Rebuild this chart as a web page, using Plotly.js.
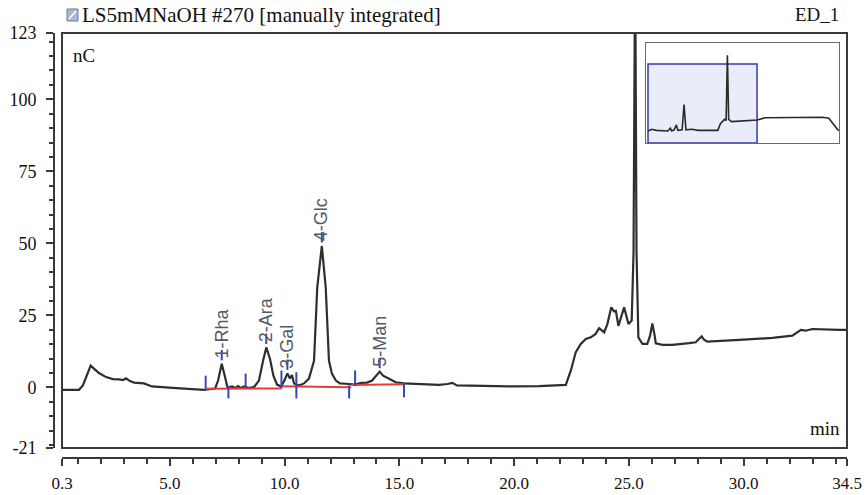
<!DOCTYPE html>
<html>
<head>
<meta charset="utf-8">
<script src="https://cdn.plot.ly/plotly-3.0.1.min.js"></script>
<style>html,body{margin:0;padding:0;background:#fff;}#chart{width:865px;height:495px;}</style>
</head>
<body>
<div id="chart"></div>
<script>
// ---- Main chromatogram (time in min, signal in nC) ----
const timeMin = [0.3, 1.04, 1.21, 1.39, 1.55, 1.74, 1.91, 2.22, 2.52, 2.78, 2.96, 3.09, 3.26, 3.44, 3.87, 4.22, 4.74, 5.27, 6.49,
  6.71, 6.97, 7.10, 7.26, 7.39, 7.51, 7.71, 7.84, 7.97, 8.10, 8.23, 8.45, 8.67, 8.88, 9.06, 9.20, 9.36, 9.51, 9.67, 9.84,
  9.97, 10.12, 10.23, 10.32, 10.41, 10.63, 10.84, 11.06, 11.28, 11.42, 11.62, 11.79, 11.93, 12.06, 12.23, 12.41, 12.66,
  12.89, 13.07, 13.33, 13.59, 13.81, 13.98, 14.14, 14.29, 14.40, 14.59, 14.84, 15.20, 15.55, 16.07, 16.73, 17.10, 17.30,
  17.51, 18.47, 19.78, 21.08, 22.25, 22.47, 22.68, 22.90, 23.12, 23.34, 23.55, 23.70, 23.92, 24.06, 24.23, 24.35, 24.43,
  24.54, 24.79, 24.98, 25.12, 25.20, 25.27, 25.33, 25.41, 25.59, 25.80, 25.92, 26.02, 26.12, 26.17, 26.46, 26.89, 27.62,
  27.91, 28.06, 28.17, 28.27, 28.42, 29.80, 31.25, 32.12, 32.49, 32.70, 32.99, 34.16, 34.5];
const signalNC = [-0.8, -0.8, 0.7, 4.1, 7.6, 6.2, 5.0, 3.6, 2.9, 2.8, 2.6, 3.2, 2.2, 1.7, 1.4, 0.35, 0.0, -0.25, -0.8,
  -0.5, -0.35, 2.4, 8.2, 4.1, 0.0, 0.35, -0.2, 0.5, -0.2, 0.35, -0.2, 0.2, 2.4, 9.3, 13.9, 10.0, 4.1, 1.0, 0.35,
  2.1, 4.9, 3.1, 4.3, 1.4, 0.7, 1.4, 3.1, 9.3, 34.7, 49.1, 34.7, 9.3, 4.8, 2.4, 1.4, 1.3,
  1.0, 1.0, 1.6, 1.7, 2.4, 4.1, 5.5, 4.1, 3.6, 2.8, 1.8, 1.4, 1.3, 1.0, 0.9, 1.2, 1.6,
  0.7, 0.5, 0.35, 0.5, 0.9, 5.9, 12.2, 15.1, 16.8, 17.4, 18.6, 20.6, 19.1, 22.0, 27.8, 26.4, 26.6,
  21.4, 27.8, 22.0, 23.2, 47.0, 150.0, 47.0, 17.4, 15.1, 15.1, 18.0, 22.2, 18.0, 15.3, 14.8, 14.8, 15.4,
  15.7, 16.9, 17.7, 16.6, 15.9, 16.5, 17.2, 18.0, 20.0, 19.7, 20.3, 20.0, 20.0];

// ---- Identified peaks ----
const peakNames = ["1-Rha", "2-Ara", "3-Gal", "4-Glc", "5-Man"];
const peakTimes = [7.26, 9.20, 10.12, 11.62, 14.14];
const peakHeights = [8.2, 13.9, 4.9, 49.1, 5.5];

// ---- Integration delimiters ----
const markTimes = [6.56, 7.55, 8.30, 9.86, 10.51, 12.81, 13.07, 15.20];
const markTop = [4.1, 0.45, 4.8, 5.9, 5.3, 0.7, 5.9, 1.4];
const markBottom = [-0.35, -3.8, -0.35, -0.35, -3.8, -3.8, 0.45, -3.4];

// ---- Integration baselines ----
const baseStartTime = [6.56, 9.86, 12.90];
const baseEndTime = [9.86, 12.90, 15.20];
const baseStartVal = [-0.45, 0.45, 0.9];
const baseEndVal = [-0.35, 0.1, 1.1];

// ---- Overview inset (full run) ----
const insetTime = [0.3, 1.5, 3.0, 6.5, 7.3, 7.7, 8.5, 9.2, 9.7, 11.0, 11.6, 12.2, 14.1, 16.0, 22.2, 23.0, 24.3, 24.8, 25.2,
  25.6, 26.5, 30.0, 34.5, 37.0, 45.0, 55.0, 57.0, 58.3, 59.8, 60.2];
const insetSignal = [1, 4, 2, 1, 6, 1, 3, 12, 2, 3, 49, 3, 4, 2, 2, 14, 22, 20, 139,
  22, 18, 19, 21, 25, 26, 26, 24, 14, 3, 2];

// ---- Axis ticks ----
const xRange = [0.3, 34.5];
const yRange = [-21, 123];
const xTickVals = [0.3, 5, 10, 15, 20, 25, 30, 34.5];
const xTickText = ["0.3", "5.0", "10.0", "15.0", "20.0", "25.0", "30.0", "34.5"];
const xMinorVals = [1,2,3,4,6,7,8,9,11,12,13,14,16,17,18,19,21,22,23,24,26,27,28,29,31,32,33,34];
const yTickVals = [-21, 0, 25, 50, 75, 100, 123];
const yTickText = ["-21", "0", "25", "50", "75", "100", "123"];
const yMinorVals = [-20,-15,-10,-5,5,10,15,20,30,35,40,45,55,60,65,70,80,85,90,95,105,110,115,120];

const W = 865, H = 495;
const px = v => v / W;
const py = v => 1 - v / H;

const traces = [];
traces.push({x: timeMin, y: signalNC, type: 'scatter', mode: 'lines',
  line: {color: '#2e2e2e', width: 2.2}, xaxis: 'x', yaxis: 'y', hoverinfo: 'skip'});

for (let i = 0; i < baseStartTime.length; i++) {
  traces.push({x: [baseStartTime[i], baseEndTime[i]], y: [baseStartVal[i], baseEndVal[i]],
    type: 'scatter', mode: 'lines', line: {color: '#e83a3a', width: 2}, xaxis: 'x', yaxis: 'y'});
}
for (let i = 0; i < markTimes.length; i++) {
  traces.push({x: [markTimes[i], markTimes[i]], y: [markBottom[i], markTop[i]],
    type: 'scatter', mode: 'lines', line: {color: '#3848b0', width: 2}, xaxis: 'x', yaxis: 'y'});
}
for (let i = 0; i < peakTimes.length; i++) {
  traces.push({x: [peakTimes[i], peakTimes[i]], y: [peakHeights[i] + 1.2, peakHeights[i] + 4.8],
    type: 'scatter', mode: 'lines', line: {color: '#3848b0', width: 2}, xaxis: 'x', yaxis: 'y'});
}
traces.push({x: insetTime, y: insetSignal, type: 'scatter', mode: 'lines',
  line: {color: '#2a2a2a', width: 1.6}, xaxis: 'x2', yaxis: 'y2', hoverinfo: 'skip'});

const serif = 'Liberation Serif, Times New Roman, serif';
const annotations = [];
for (let i = 0; i < peakNames.length; i++) {
  annotations.push({x: peakTimes[i], y: peakHeights[i], xref: 'x', yref: 'y', text: peakNames[i],
    textangle: -90, showarrow: false, xanchor: 'center', yanchor: 'bottom', yshift: 3,
    font: {family: 'Liberation Sans, Arial, sans-serif', size: 18, color: '#535868'}});
}
annotations.push({x: px(841), y: py(15), xref: 'paper', yref: 'paper', text: 'ED_1', showarrow: false,
  xanchor: 'right', yanchor: 'middle', font: {family: serif, size: 19, color: '#111'}});
annotations.push({x: px(71), y: py(55), xref: 'paper', yref: 'paper', text: 'nC', showarrow: false,
  xanchor: 'left', yanchor: 'middle', font: {family: serif, size: 19, color: '#111'}});
annotations.push({x: px(842), y: py(428), xref: 'paper', yref: 'paper', text: 'min', showarrow: false,
  xanchor: 'right', yanchor: 'middle', font: {family: serif, size: 19, color: '#111'}});

const shapes = [
  {type: 'rect', xref: 'x domain', yref: 'y domain', x0: 0, x1: 1, y0: 0, y1: 1,
    line: {color: '#3a3a3a', width: 2}, layer: 'above'},
  {type: 'rect', xref: 'x2 domain', yref: 'y2 domain', x0: 0, x1: 1, y0: 0, y1: 1,
    line: {color: '#6a6a6a', width: 2}, fillcolor: '#ffffff', layer: 'below'},
  {type: 'rect', xref: 'x2', yref: 'y2', x0: xRange[0], x1: xRange[1], y0: yRange[0], y1: yRange[1],
    line: {color: '#3a3aa8', width: 1.5}, fillcolor: 'rgba(232,234,248,0.9)', layer: 'below'},
  {type: 'rect', xref: 'paper', yref: 'paper', x0: px(67), x1: px(78), y0: py(21), y1: py(9),
    line: {color: '#6b7f98', width: 1}, fillcolor: '#a9bbd0'},
  {type: 'line', xref: 'paper', yref: 'paper', x0: px(69), x1: px(76), y0: py(19), y1: py(11),
    line: {color: '#ffffff', width: 1.5}}
];

const layout = {
  width: W, height: H,
  margin: {l: 0, r: 0, t: 0, b: 0},
  paper_bgcolor: '#ffffff', plot_bgcolor: '#ffffff',
  showlegend: false,
  title: {text: 'LS5mMNaOH #270 [manually integrated]', x: px(82), xanchor: 'left', xref: 'paper',
    y: py(15), yanchor: 'middle', yref: 'paper', font: {family: serif, size: 21, color: '#111'}},
  xaxis: {domain: [px(62), px(847)], range: xRange, anchor: 'free', position: py(458),
    showline: true, linecolor: '#3a3a3a', linewidth: 2, mirror: false,
    ticks: 'outside', ticklen: 7, tickwidth: 2, tickcolor: '#3a3a3a',
    tickmode: 'array', tickvals: xTickVals, ticktext: xTickText, ticklabelstandoff: 3,
    minor: {tickmode: 'array', tickvals: xMinorVals, ticks: 'outside', ticklen: 5, tickwidth: 2, tickcolor: '#3a3a3a', showgrid: false},
    showgrid: false, zeroline: false, fixedrange: true,
    tickfont: {family: serif, size: 17, color: '#111'}},
  yaxis: {domain: [py(448), py(33)], range: yRange, anchor: 'free', position: px(54),
    showline: true, linecolor: '#3a3a3a', linewidth: 2,
    ticks: 'outside', ticklen: 7, tickwidth: 2, tickcolor: '#3a3a3a',
    tickmode: 'array', tickvals: yTickVals, ticktext: yTickText, ticklabelstandoff: 6,
    minor: {tickmode: 'array', tickvals: yMinorVals, ticks: 'outside', ticklen: 4, tickwidth: 2, tickcolor: '#3a3a3a', showgrid: false},
    showgrid: false, zeroline: false, fixedrange: true,
    tickfont: {family: serif, size: 18, color: '#111'}},
  xaxis2: {domain: [px(646), px(839)], range: [-0.33, 60.2], anchor: 'y2', visible: false, fixedrange: true},
  yaxis2: {domain: [py(143), py(43)], range: [-21, 161.3], anchor: 'x2', visible: false, fixedrange: true},
  annotations: annotations,
  shapes: shapes
};

Plotly.newPlot('chart', traces, layout, {displayModeBar: false, staticPlot: true});
</script>
</body>
</html>
